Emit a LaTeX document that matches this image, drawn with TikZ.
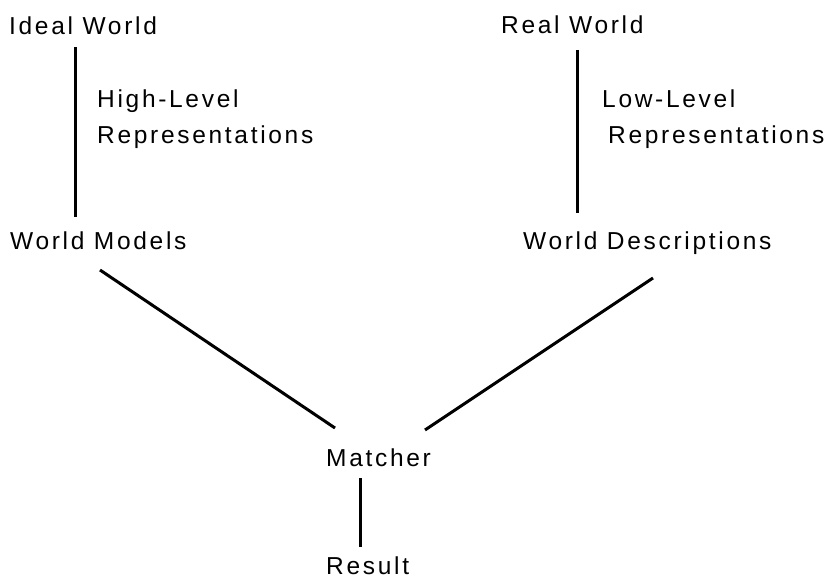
\documentclass[tikz,border=0pt]{standalone}
\usepackage{fontspec}
\setmainfont{Liberation Sans}[LetterSpace=11]
\usetikzlibrary{calc}
\begin{document}
\begin{tikzpicture}[x=1pt,y=-1pt,
  lbl/.style={anchor=base west, inner sep=0pt, font=\fontsize{24.5}{29}\selectfont},
  conn/.style={line width=3pt}]
\path[use as bounding box, fill=white] (0,0) rectangle (835,578);
\node[lbl] (ideal)  at (9,35)    {Ideal World};
\node[lbl] (high)   at (97,107)  {High-Level};
\node[lbl] (rep1)   at (97,143)  {Representations};
\node[lbl] (models) at (10,249)  {World Models};
\node[lbl] (real)   at (501,34)  {Real World};
\node[lbl] (low)    at (602,107) {Low-Level};
\node[lbl] (rep2)   at (608,143) {Representations};
\node[lbl] (desc)   at (523,249) {World Descriptions};
\node[lbl] (match)  at (326,466) {Matcher};
\node[lbl] (result) at (326,574) {Result};
\draw[conn] ($(ideal.base west)+(66,12)$) -- ($(models.base west)+(65,-32)$);
\draw[conn] ($(real.base west)+(76,16)$) -- ($(desc.base west)+(54,-36)$);
\draw[conn] ($(models.base west)+(90,21)$) -- ($(match.base west)+(9,-38)$);
\draw[conn] ($(desc.base west)+(130,29)$) -- ($(match.base west)+(99,-36)$);
\draw[conn] ($(match.base west)+(34,12)$) -- ($(result.base west)+(34,-27)$);
\end{tikzpicture}
\end{document}
